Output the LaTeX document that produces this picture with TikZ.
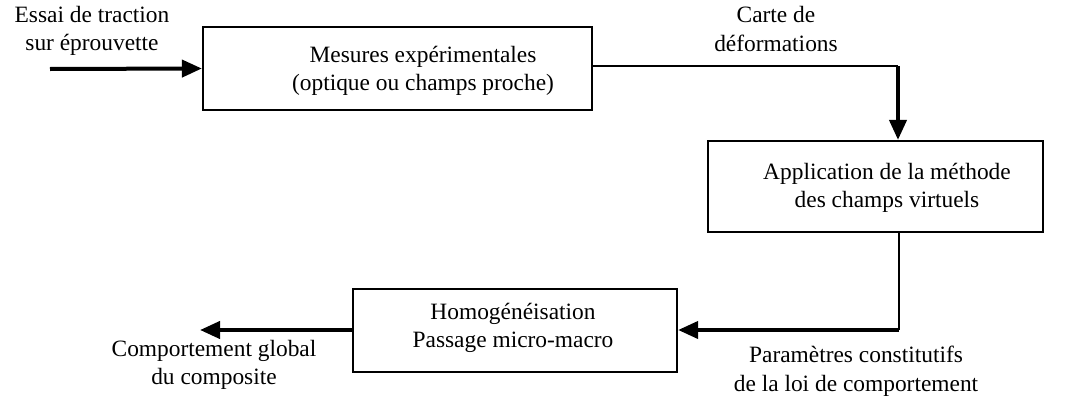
\documentclass[tikz,border=0pt]{standalone}
\usepackage{fontspec}
\setmainfont{Liberation Serif}
\usetikzlibrary{arrows.meta}

\begin{document}
\begin{tikzpicture}[x=1pt, y=-1pt,
    box/.style={draw, line width=2.2pt, inner sep=0pt},
    txt/.style={align=center, inner sep=0pt, font=\fontsize{23.4}{28.5}\selectfont},
    fin/.style={line width=1.6pt},
    fleche/.style={line width=4pt, -{Triangle[length=20pt, width=17pt]}}]
  \useasboundingbox (0,0) rectangle (1085,407);
  % boites
  \node [box, minimum width=389, minimum height=83] (mes) at (397.5,68.5) {};
  \node [box, minimum width=335, minimum height=91] (mcv) at (875.5,186.5) {};
  \node [box, minimum width=324, minimum height=83] (homog) at (515,330.5) {};
  % textes
  \node [txt] (mestxt) at (423,71) {Mesures expérimentales\\(optique ou champs proche)};
  \node [txt] (mcvtxt) at (887,188) {Application de la méthode\\des champs virtuels};
  \node [txt] (homtxt) at (513,328) {Homogénéisation\\Passage micro-macro};
  \node [txt] (essai) at (92,31) {Essai de traction\\sur éprouvette};
  \node [txt] (carte) at (776,29) {Carte de\\déformations};
  \node [txt] (comport) at (214,365) {Comportement global\\du composite};
  \node [txt] (param) at (856,371) {Paramètres constitutifs\\de la loi de comportement};
  % liaisons
  \coordinate (depart) at (50,69);
  \coordinate (coin1) at (898,66);
  \coordinate (coin2) at (899,330);
  \coordinate (sortie) at (200,330);
  \draw [fleche] (depart) -- (mes.west);
  \draw [fin] (mes.east |- coin1) -- (coin1);
  \draw [fleche] (coin1) -- (coin1 |- mcv.north);
  \draw [fin] (coin2 |- mcv.south) -- (coin2);
  \draw [fleche] (coin2) -- (coin2 -| homog.east);
  \draw [fleche] (homog.west |- sortie) -- (sortie);
\end{tikzpicture}
\end{document}
